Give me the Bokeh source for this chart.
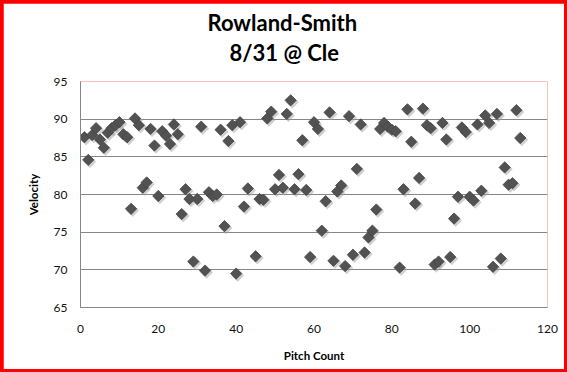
import numpy as np
from bokeh.plotting import figure
from bokeh.layouts import column
from bokeh.models import Range1d, FixedTicker, Title
from bokeh.embed import file_html
from bokeh.resources import INLINE

# ---- data ----
pitch = [1, 2, 3, 4, 5, 6, 7, 8, 9, 10,
         11, 12, 13, 14, 15, 16, 17, 18, 19, 20,
         21, 22, 23, 24, 25, 26, 27, 28, 29, 30,
         31, 32, 33, 34, 35, 36, 37, 38, 39, 40,
         41, 42, 43, 45, 46, 47, 48, 49, 50,
         51, 52, 53, 54, 55, 56, 57, 58, 59, 60,
         61, 62, 63, 64, 65, 66, 67, 68, 69, 70,
         71, 72, 73, 74, 75, 76, 77, 78, 79, 80,
         81, 82, 83, 84, 85, 86, 87, 88, 89, 90,
         91, 92, 93, 94, 95, 96, 97, 98, 99, 100,
         101, 102, 103, 104, 105, 106, 107, 108, 109, 110,
         111, 112, 113]
velocity = [87.6, 84.6, 87.9, 88.8, 87.3, 86.2, 88.2, 88.8, 89.2, 89.6,
            88.0, 87.6, 78.1, 90.1, 89.2, 80.9, 81.6, 88.7, 86.5, 79.8,
            88.4, 87.8, 86.7, 89.3, 88.0, 77.4, 80.7, 79.4, 71.1, 79.4,
            89.0, 69.9, 80.3, 79.8, 80.0, 88.6, 75.8, 87.1, 89.2, 69.5,
            89.6, 78.4, 80.8, 71.8, 79.4, 79.3, 90.1, 91.0, 80.7,
            82.6, 80.9, 90.7, 92.5, 80.7, 82.7, 87.2, 80.6, 71.7, 89.6,
            88.7, 75.2, 79.1, 90.9, 71.2, 80.4, 81.2, 70.5, 90.4, 72.0,
            83.4, 89.3, 72.3, 74.3, 75.2, 78.0, 88.7, 89.5, 89.0, 88.6,
            88.4, 70.3, 80.7, 91.3, 87.0, 78.8, 82.2, 91.4, 89.2, 88.8,
            70.7, 71.1, 89.5, 87.3, 71.7, 76.8, 79.7, 88.9, 88.3, 79.7,
            79.2, 89.3, 80.5, 90.5, 89.5, 70.4, 90.7, 71.5, 83.6, 81.3,
            81.5, 91.2, 87.5]
x_ticks = [0, 20, 40, 60, 80, 100, 120]
y_ticks = [65, 70, 75, 80, 85, 90, 95]
title_line1 = "Rowland-Smith"
title_line2 = "8/31 @ Cle"
x_label = "Pitch Count"
y_label = "Velocity"

W, H = 561, 366
ML, MR, MT, MB = 77, 17, 78, 62

p = figure(width=W, height=H, output_backend="svg", toolbar_location=None,
           x_range=Range1d(x_ticks[0], x_ticks[-1]), y_range=Range1d(y_ticks[0], y_ticks[-1]),
           min_border_left=ML, min_border_right=MR, min_border_top=MT, min_border_bottom=MB,
           title=None)
p.background_fill_color = "white"
p.border_fill_color = "white"
p.outline_line_color = None

# titles: spacer closest to the plot, then line 2, then line 1
spacer = Title(text=" ", text_font_size="1px", standoff=13)
t2 = Title(text=title_line2, align="left", offset=149, text_font="Lato", text_font_size="22px",
           text_font_style="bold", text_color="black", standoff=0)
t1 = Title(text=title_line1, align="left", offset=127, text_font="Lato", text_font_size="22px",
           text_font_style="bold", text_color="black", standoff=2)
p.add_layout(spacer, "above")
p.add_layout(t2, "above")
p.add_layout(t1, "above")

# grid
p.xgrid.visible = False
p.ygrid.ticker = FixedTicker(ticks=y_ticks)
p.ygrid.grid_line_color = "#868686"
p.ygrid.grid_line_width = 1

for ax in (p.xaxis[0], p.yaxis[0]):
    ax.axis_line_color = "#868686"
    ax.major_tick_line_color = None
    ax.minor_tick_line_color = None
    ax.major_tick_out = 0
    ax.major_tick_in = 0
    ax.major_label_text_font = "Lato"
    ax.major_label_text_font_size = "12px"
    ax.major_label_text_color = "#111111"
    ax.axis_label_text_font = "Lato"
    ax.axis_label_text_font_size = "11.5px"
    ax.axis_label_text_font_style = "bold"
    ax.axis_label_text_color = "black"

p.xaxis.ticker = FixedTicker(ticks=x_ticks)
p.yaxis.ticker = FixedTicker(ticks=y_ticks)
p.xaxis.axis_label = x_label
p.yaxis.axis_label = y_label
p.xaxis.major_label_standoff = 17
p.xaxis.axis_label_standoff = 13
p.yaxis.major_label_standoff = 13
p.yaxis.axis_label_standoff = 11

# marker shadow (small screen-pixel offset converted to data units)
px_x = (W - ML - MR) / (x_ticks[-1] - x_ticks[0])
px_y = (H - MT - MB) / (y_ticks[-1] - y_ticks[0])
xs = np.array(pitch, dtype=float)
ys = np.array(velocity, dtype=float)
p.scatter(xs + 1.6 / px_x, ys - 1.8 / px_y, marker="square", size=8.5, angle=np.pi / 4,
          fill_color="#9a9a9a", fill_alpha=0.45, line_color="#b0b0b0", line_alpha=0.35)
p.scatter(xs, ys, marker="square", size=8, angle=np.pi / 4,
          fill_color="#525252", line_color="#454545", line_width=0.8)

layout = column(p, styles={"background-color": "#ff0000", "padding": "3px"})

open("out.html", "w").write(file_html(layout, INLINE))
